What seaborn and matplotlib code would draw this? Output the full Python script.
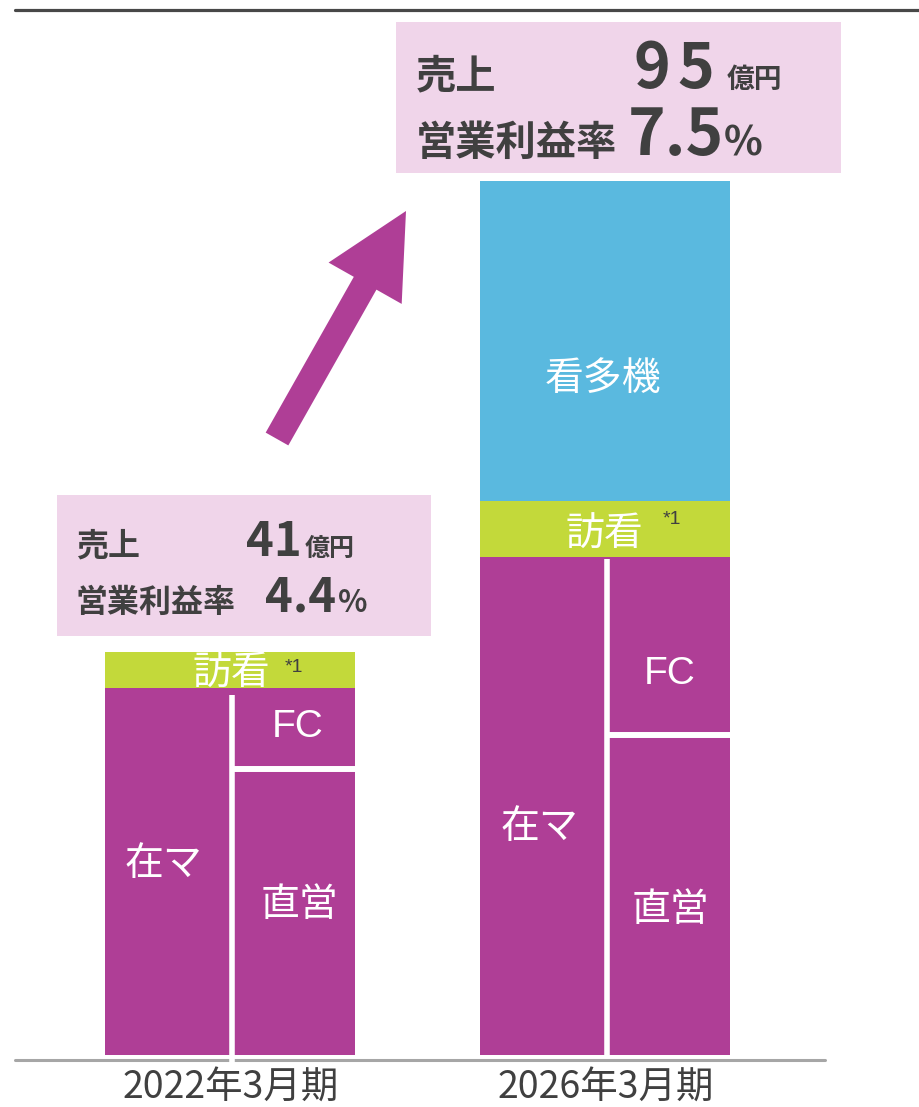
import numpy as np
import pandas as pd
import matplotlib
matplotlib.use('Agg')
import matplotlib.pyplot as plt
import matplotlib.patches as mpatches
from matplotlib.lines import Line2D
from matplotlib.transforms import IdentityTransform
import seaborn as sns

# ------------------------------------------------
# データ (棒の高さ、相対値)
# ------------------------------------------------
periods = ['2022年3月期', '2026年3月期']
chokuei = [28.6, 32.0]   # 直営
fc      = [8.1, 17.8]    # FC
houkan  = [3.6, 5.6]     # 訪看
kantaki = [0.0, 32.0]    # 看多機

sales_lbl  = ['41', '95']
margin_lbl = ['4.4', '7.5']

df = pd.DataFrame({'period': periods, 'chokuei': chokuei, 'fc': fc,
                   'houkan': houkan, 'kantaki': kantaki})
df['zaima_top']  = df['chokuei'] + df['fc']
df['houkan_top'] = df['zaima_top'] + df['houkan']
df['total']      = df['houkan_top'] + df['kantaki']

# ------------------------------------------------
# スタイル
# ------------------------------------------------
sns.set_style('white')
plt.rcParams['font.family'] = ['Noto Sans CJK JP', 'DejaVu Sans']

MAGENTA = '#AF3E96'
GREEN   = '#C3D93A'
BLUE    = '#5AB9DF'
PINK    = '#F0D5EA'
DARK    = '#404040'
W, H = 919, 1107

def fx(x):
    return x / W

def fy(y):
    return 1 - y / H

fig = plt.figure(figsize=(W / 100, H / 100), dpi=100)
ax = fig.add_axes([fx(15), (H - 1055) / H, 810 / W, 1047 / H])

bw = 250 / 375
for col, c in [('total', BLUE), ('houkan_top', GREEN), ('zaima_top', MAGENTA)]:
    sns.barplot(data=df, x='period', y=col, color=c, width=bw, saturation=1,
                errorbar=None, edgecolor='none', linewidth=0, ax=ax)

ax.set_xlim(-215.5 / 375, 594.5 / 375)
ax.set_ylim(0, 104.7)
ax.axhline(-0.45, color='#A6A6A6', lw=2.2, clip_on=False, zorder=3)

# 白い区切り線
vbottom = [-0.75, 0.0]
for i in range(len(periods)):
    ax.vlines(i + 0.004, vbottom[i], df['zaima_top'][i] - 0.2 - 0.5 * (i == 0),
              color='white', lw=4, zorder=4, clip_on=False)
    ax.hlines(df['chokuei'][i], i + 0.01, i + bw / 2, color='white', lw=4.3, zorder=4)

ax.set_xticks([0, 1], periods)
ax.tick_params(axis='x', length=0, pad=10, labelsize=27, labelcolor=DARK)
ax.set_yticks([])
ax.set_xlabel('')
ax.set_ylabel('')
sns.despine(ax=ax, left=True, bottom=True)

# 棒の中のラベル
inner = [
    ('在マ', 163, 864), ('直営', 299, 905), ('FC', 298, 727), ('訪看', 231, 674),
    ('在マ', 539, 827), ('直営', 670, 910), ('FC', 670, 674), ('訪看', 604, 535),
    ('看多機', 603, 379),
]
for t, x, y in inner:
    fam = ['Liberation Sans'] if t == 'FC' else ['Noto Sans CJK JP', 'DejaVu Sans']
    fig.text(fx(x), fy(y), t, color='white', fontsize=28, ha='center',
             va='center', family=fam)
for x, y in [(294, 667), (672, 520)]:
    fig.text(fx(x), fy(y), '*1', color=DARK, fontsize=14, ha='center', va='center',
             family=['Liberation Sans'])

# 上の線
fig.add_artist(Line2D([fx(15), 1], [fy(9.5), fy(9.5)], color='#484848', lw=2.3))

# 吹き出しボックス
for x0, y0, x1, y1 in [(57, 495, 431, 636), (396, 22, 841, 173)]:
    fig.add_artist(mpatches.Rectangle((fx(x0), fy(y1)), fx(x1 - x0), (y1 - y0) / H,
                                      transform=fig.transFigure, color=PINK, lw=0))

bold = dict(color=DARK, fontweight='bold')
# 2022
fig.text(fx(76), fy(556), '売上', fontsize=23, ha='left', va='baseline', **bold)
fig.text(fx(274), fy(556), sales_lbl[0], fontsize=34, ha='center', va='baseline', **bold)
fig.text(fx(305), fy(556), '億円', fontsize=18, ha='left', va='baseline', **bold)
fig.text(fx(76), fy(612), '営業利益率', fontsize=23, ha='left', va='baseline', **bold)
fig.text(fx(301), fy(612), margin_lbl[0], fontsize=34, ha='center', va='baseline', **bold)
fig.text(fx(338), fy(612), '%', fontsize=22, ha='left', va='baseline', **bold)
# 2026 (数字は一文字ずつ広めに配置)
fig.text(fx(416), fy(88), '売上', fontsize=29, ha='left', va='baseline', **bold)
for k, ch in enumerate(sales_lbl[1]):
    fig.text(fx(652 + 44 * k), fy(88), ch, fontsize=45, ha='center', va='baseline', **bold)
fig.text(fx(727), fy(88), '億円', fontsize=20, ha='left', va='baseline', **bold)
fig.text(fx(416), fy(155), '営業利益率', fontsize=29, ha='left', va='baseline', **bold)
fig.text(fx(676), fy(155), margin_lbl[1], fontsize=46, ha='center', va='baseline', **bold)
fig.text(fx(724), fy(155), '%', fontsize=29, ha='left', va='baseline', **bold)

# 矢印
arrow = mpatches.FancyArrow(277, H - 439, 129, 228, width=26, head_width=84,
                            head_length=83, length_includes_head=True,
                            color=MAGENTA, lw=0, transform=IdentityTransform())
fig.add_artist(arrow)

fig.savefig('out.png', dpi=100)
